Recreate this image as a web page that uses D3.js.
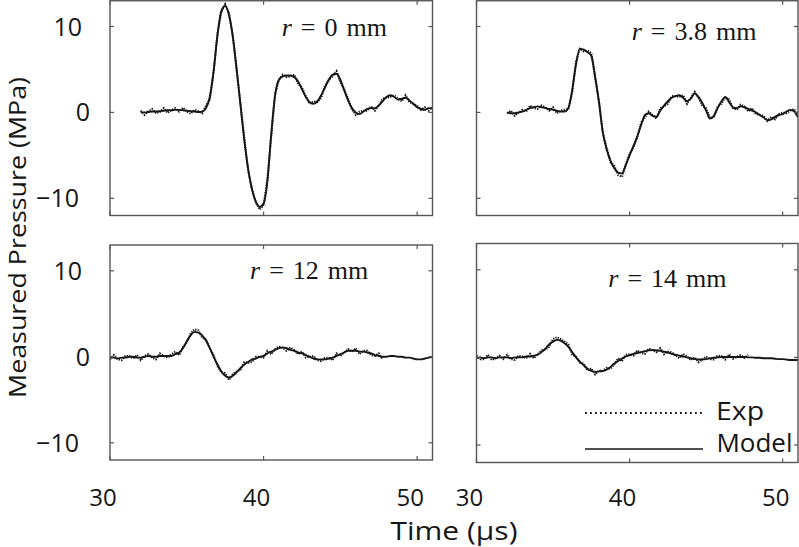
<!DOCTYPE html>
<html><head><meta charset="utf-8">
<script src="https://cdn.jsdelivr.net/npm/d3@7"></script>
<style>body{margin:0;background:#fff}svg{display:block}</style>
</head><body>
<svg id="c" width="799" height="547"></svg>
<script>
// ---------- data ----------
const xTicks = [30, 40, 50];
const yTicks = [10, 0, -10];
const sampleStep = 0.25; // µs between samples
const titles = ["0", "3.8", "12", "14"];
const legendLabels = ["Exp", "Model"];

// r = 0 mm, samples from 32 µs
const modelR0 = [0.0,0.0,0.05,0.1,0.1,0.15,0.2,0.25,0.25,0.3,0.3,0.25,0.2,0.15,0.1,0.05,0.1,0.5,1.8,4.8,9.0,11.8,12.4,11.3,8.8,5.0,0.8,-3.3,-6.6,-9.0,-10.4,-11.0,-10.6,-8.0,-2.5,2.0,3.8,4.2,4.3,4.3,4.1,3.6,2.7,1.8,1.2,1.0,1.3,2.0,2.9,3.8,4.4,4.5,3.8,2.6,1.4,0.5,0.0,-0.2,0.1,0.4,0.5,0.5,0.8,1.3,1.8,2.0,1.8,1.5,1.6,1.7,1.4,1.0,0.6,0.4,0.3,0.5,0.5];
const expR0 = [0.2,-0.3,0.15,0.4,-0.1,0.05,0.5,-0.05,0.25,0.5,0.1,0.55,0.1,-0.15,0.3,0.15,-0.1,0.8,1.5,4.9,9.2,11.7,12.6,11.6,8.8,4.8,1.0,-3.0,-6.9,-8.9,-10.5,-11.3,-10.8,-7.7,-2.8,2.1,3.8,4.4,4.1,4.2,4.4,3.3,2.9,1.9,1.0,1.3,1.2,1.7,3.1,3.8,4.2,4.8,3.5,2.7,1.6,0.4,-0.3,0.1,0.2,0.2,0.7,0.2,0.8,1.6,1.7,1.8,2.0,1.6,1.3,2.0,1.2,1.0,0.8,0.3,0.6,0.2,0.6];

// r = 3.8 mm, samples from 32 µs
const modelR38 = [0.0,-0.1,-0.1,0.0,0.1,0.3,0.5,0.6,0.7,0.6,0.5,0.4,0.3,0.2,0.1,0.1,0.5,2.6,5.6,7.4,7.3,7.0,6.6,4.2,1.2,-2.3,-4.3,-5.6,-6.5,-7.0,-7.1,-6.1,-5.0,-3.9,-2.8,-1.5,-0.3,-0.1,-0.4,-0.5,0.2,0.8,1.3,1.7,1.9,2.0,1.7,1.3,1.6,2.2,1.8,1.1,0.2,-0.7,-0.4,0.5,1.3,1.8,1.2,0.6,0.5,0.7,0.6,0.4,0.2,0.0,-0.3,-0.6,-0.9,-0.8,-0.5,-0.3,-0.2,0.1,0.3,0.1,-0.5];
const expR38 = [-0.1,0.2,-0.4,0.0,0.3,0.1,0.8,0.5,0.4,0.8,0.6,0.2,0.6,-0.1,0.2,0.3,0.4,2.3,5.9,7.4,7.1,7.2,6.9,3.9,1.3,-2.4,-4.1,-5.8,-6.2,-7.3,-7.5,-6.1,-4.8,-4.1,-2.9,-1.2,-0.6,0.1,-0.3,-0.7,0.5,0.7,1.0,1.9,1.9,1.8,2.0,1.0,1.7,2.4,1.7,0.8,0.5,-0.6,-0.6,0.7,1.0,1.8,1.5,0.5,0.3,0.9,0.7,0.1,0.5,-0.2,-0.3,-0.4,-1.0,-0.5,-0.8,-0.2,0.0,-0.1,0.2,0.4,-0.6];

// r = 12 mm, samples from 30 µs
const modelR12 = [-0.1,-0.1,-0.2,-0.1,-0.1,0.0,0.0,-0.1,-0.1,0.0,0.1,0.0,0.0,0.1,0.1,0.1,0.1,0.3,0.5,1.0,1.8,2.5,2.9,2.8,2.5,1.9,1.0,0.0,-0.9,-1.7,-2.2,-2.4,-2.2,-1.8,-1.3,-0.9,-0.6,-0.3,-0.2,0.0,0.1,0.4,0.6,0.8,1.0,1.1,1.0,0.8,0.7,0.5,0.4,0.2,0.0,-0.2,-0.3,-0.3,-0.3,-0.2,-0.1,0.1,0.3,0.5,0.7,0.7,0.7,0.6,0.6,0.5,0.4,0.2,0.1,0.0,0.0,0.1,0.1,0.0,0.0,-0.1,-0.1,-0.2,-0.3,-0.3,-0.2,-0.1,0.0];
const expR12 = [-0.3,0.2,-0.3,-0.4,0.1,0.1,-0.2,0.2,-0.4,0.1,0.3,-0.1,-0.3,0.4,0.1,-0.1,0.3,0.6,0.2,1.1,1.7,2.7,3.2,3.1,2.2,2.0,1.0,0.2,-1.1,-1.8,-1.9,-2.7,-2.0,-1.7,-1.5,-0.6,-0.7,-0.6,0.0,0.0,-0.1,0.7,0.3,0.9,1.2,1.0,0.7,1.1,0.8,0.3,0.6,-0.1,0.0,0.1,-0.4,-0.5,-0.1,-0.1,-0.4,0.4,0.1,0.5,0.9,0.6,1.0,0.3,0.7,0.7,0.2,0.1,0.4,-0.3];

// r = 14 mm, samples from 30 µs
const modelR14 = [-0.1,0.0,-0.1,0.0,0.0,-0.1,0.0,0.0,0.0,-0.1,0.0,0.0,0.0,0.1,0.1,0.2,0.3,0.6,1.0,1.5,1.8,2.0,1.9,1.6,1.2,0.6,0.0,-0.5,-0.9,-1.3,-1.55,-1.65,-1.6,-1.55,-1.4,-1.1,-0.7,-0.4,-0.15,0.1,0.25,0.4,0.5,0.6,0.7,0.8,0.85,0.8,0.75,0.65,0.55,0.4,0.3,0.2,0.1,0.0,-0.1,-0.2,-0.25,-0.25,-0.2,-0.1,-0.05,0.0,0.05,0.05,0.05,0.05,0.05,0.05,0.05,0.0,0.0,-0.05,-0.05,-0.1,-0.1,-0.1,-0.15,-0.2,-0.2,-0.25,-0.3,-0.3,-0.3];
const expR14 = [0.2,-0.2,-0.2,0.3,-0.3,-0.1,0.2,-0.2,0.3,-0.2,-0.3,0.2,0.1,-0.1,0.4,-0.1,0.4,0.8,0.9,1.2,2.1,2.3,2.1,1.8,1.5,0.3,0.1,-0.6,-0.7,-1.5,-1.25,-1.95,-1.5,-1.55,-1.2,-1.3,-0.8,-0.1,-0.45,0.3,0.35,0.2,0.8,0.5,0.4,1.0,0.85,0.6,1.05,0.35,0.65,0.6,0.2,-0.1,0.4,0.1,-0.3,0.0,-0.55,-0.25,0.1,-0.2,-0.25,0.2,0.15,-0.25,0.35,-0.15,0.05,0.25,-0.05,0.3];

const seriesStart = [32, 32, 30, 30]; // first sample time of each panel (µs)

// ---------- layout ----------
const svg = d3.select("#c");
const ink = "#161616", frame = "#555";
const panels = [
  {model: modelR0,  exp: expR0,  box: [110, 0.75, 432.5, 215.5], yl: true,  xl: false, tp: [281.7, 35.5]},
  {model: modelR38, exp: expR38, box: [476.5, 0.75, 798, 215.5], yl: false, xl: false, tp: [631.7, 40]},
  {model: modelR12, exp: expR12, box: [110, 245, 432.5, 460],    yl: true,  xl: true,  tp: [250, 279]},
  {model: modelR14, exp: expR14, box: [476.5, 243.5, 798, 462.5], yl: false, xl: true, tp: [608.3, 286.5], legend: true}
];
const yLabelRight = {"10": 82, "0": 90, "-10": 79};
const xLabelBaseline = 506;

panels.forEach((p, k) => {
  const [x0, y0, x1, y1] = p.box;
  const x = d3.scaleLinear().domain([30, 51]).range([x0, x1]);
  const y = d3.scaleLinear().domain([-12, 13]).range([y1, y0]);
  const g = svg.append("g");
  const t0 = seriesStart[k];
  const mPts = p.model.map((v, i) => [t0 + i * sampleStep, v]);
  const ePts = p.exp.map((v, i) => [t0 + i * sampleStep, v]);

  const clipId = "clip" + k;
  svg.append("clipPath").attr("id", clipId).append("rect")
    .attr("x", x0).attr("y", y0).attr("width", x1 - x0).attr("height", y1 - y0);

  const plot = g.append("g").attr("clip-path", `url(#${clipId})`);
  plot.append("path").datum(mPts)
    .attr("d", d3.line().x(d => x(d[0])).y(d => y(d[1])).curve(d3.curveMonotoneX))
    .attr("fill", "none").attr("stroke", ink).attr("stroke-width", 1.9);
  plot.append("path").datum(ePts)
    .attr("d", d3.line().x(d => x(d[0])).y(d => y(d[1])))
    .attr("fill", "none").attr("stroke", ink).attr("stroke-width", 2)
    .attr("stroke-dasharray", "1.3,1.2");

  // frame
  g.append("rect").attr("x", x0).attr("y", y0).attr("width", x1 - x0).attr("height", y1 - y0)
    .attr("fill", "none").attr("stroke", frame).attr("stroke-width", 1.4);

  // ticks on all four sides (inward)
  const tl = 4;
  xTicks.forEach(t => {
    const xx = x(t);
    g.append("line").attr("x1", xx).attr("x2", xx).attr("y1", y1).attr("y2", y1 - tl).attr("stroke", frame).attr("stroke-width", 1.2);
    g.append("line").attr("x1", xx).attr("x2", xx).attr("y1", y0).attr("y2", y0 + tl).attr("stroke", frame).attr("stroke-width", 1.2);
    if (p.xl) {
      g.append("text").attr("x", xx - 7).attr("y", xLabelBaseline).attr("text-anchor", "middle")
        .attr("font-family", "Open Sans").attr("font-size", 24).attr("fill", ink).text(t);
    }
  });
  yTicks.forEach(t => {
    const yy = y(t);
    g.append("line").attr("x1", x0).attr("x2", x0 + tl).attr("y1", yy).attr("y2", yy).attr("stroke", frame).attr("stroke-width", 1.2);
    g.append("line").attr("x1", x1).attr("x2", x1 - tl).attr("y1", yy).attr("y2", yy).attr("stroke", frame).attr("stroke-width", 1.2);
    if (p.yl) {
      g.append("text").attr("x", yLabelRight[String(t)]).attr("y", yy).attr("dy", "0.36em")
        .attr("text-anchor", "end").attr("font-family", "Open Sans").attr("font-size", 25)
        .attr("fill", ink).text(t < 0 ? "\u2212" + Math.abs(t) : t);
    }
  });

  // title
  const tt = g.append("text").attr("x", p.tp[0]).attr("y", p.tp[1])
    .attr("font-family", "Liberation Serif, Times New Roman, serif").attr("font-size", 26)
    .attr("fill", ink).attr("word-spacing", 2.5);
  tt.append("tspan").attr("font-style", "italic").text("r");
  tt.append("tspan").text(" = " + titles[k] + " mm");

  if (p.legend) {
    const lx0 = 585, lx1 = 703;
    g.append("line").attr("x1", lx0).attr("x2", lx1).attr("y1", 413).attr("y2", 413)
      .attr("stroke", ink).attr("stroke-width", 2).attr("stroke-dasharray", "1.8,3.2");
    g.append("line").attr("x1", lx0).attr("x2", lx1).attr("y1", 449).attr("y2", 449)
      .attr("stroke", ink).attr("stroke-width", 1.7);
    g.append("text").attr("x", 716).attr("y", 420).attr("font-family", "Open Sans")
      .attr("font-size", 25).attr("fill", ink).attr("textLength", 48).attr("lengthAdjust", "spacingAndGlyphs").text(legendLabels[0]);
    g.append("text").attr("x", 716.5).attr("y", 451.5).attr("font-family", "Open Sans")
      .attr("font-size", 25).attr("fill", ink).attr("textLength", 76).attr("lengthAdjust", "spacingAndGlyphs").text(legendLabels[1]);
  }
});

// axis titles
svg.append("text").attr("transform", "translate(26,237.5) rotate(-90)")
  .attr("text-anchor", "middle").attr("font-family", "Open Sans").attr("font-size", 24)
  .attr("fill", ink).attr("textLength", 321).attr("lengthAdjust", "spacingAndGlyphs")
  .text("Measured Pressure (MPa)");
svg.append("text").attr("x", 390.5).attr("y", 540)
  .attr("font-family", "Open Sans").attr("font-size", 25)
  .attr("fill", ink).attr("textLength", 127).attr("lengthAdjust", "spacingAndGlyphs")
  .text("Time (\u03bcs)");
</script>
</body></html>
